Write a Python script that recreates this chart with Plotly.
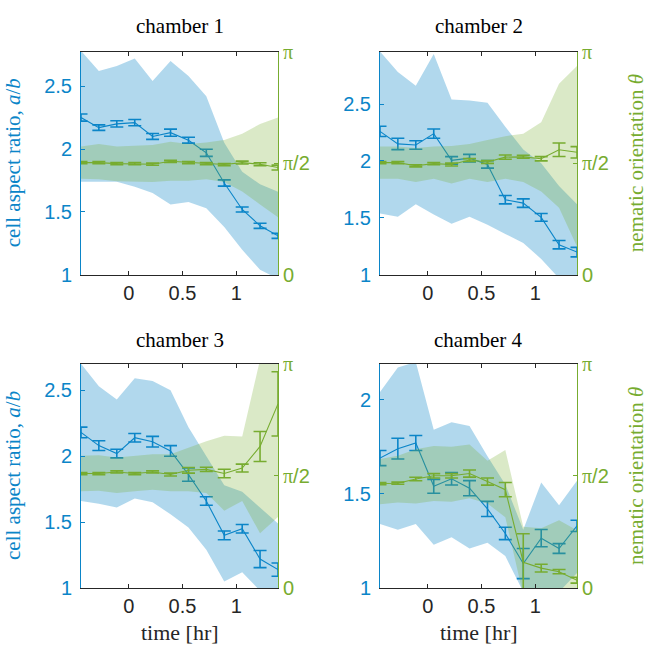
import numpy as np
import plotly.graph_objects as go

# time points [hr]
time = [-0.444, -0.278, -0.111, 0.056, 0.222, 0.389, 0.556, 0.722, 0.889, 1.056, 1.222, 1.389]

chambers = ["chamber 1", "chamber 2", "chamber 3", "chamber 4"]

# cell aspect ratio a/b : mean, s.e.m., band upper, band lower
ar_mean_1 = [2.25, 2.17, 2.20, 2.21, 2.10, 2.13, 2.07, 1.97, 1.73, 1.52, 1.39, 1.31]
ar_err_1 = [0.028, 0.022, 0.025, 0.025, 0.023, 0.028, 0.023, 0.028, 0.025, 0.02, 0.02, 0.02]
ar_up_1 = [2.78, 2.62, 2.66, 2.72, 2.54, 2.70, 2.58, 2.42, 2.05, 1.82, 1.72, 1.66]
ar_lo_1 = [1.74, 1.74, 1.74, 1.70, 1.65, 1.56, 1.58, 1.53, 1.38, 1.20, 1.04, 0.97]

ar_mean_2 = [2.26, 2.15, 2.14, 2.24, 2.005, 2.025, 1.97, 1.66, 1.63, 1.505, 1.265, 1.20]
ar_err_2 = [0.045, 0.05, 0.037, 0.04, 0.033, 0.033, 0.033, 0.037, 0.037, 0.034, 0.037, 0.042]
ar_up_2 = [2.96, 2.78, 2.66, 2.94, 2.54, 2.53, 2.51, 2.30, 2.10, 1.98, 1.78, 1.62]
ar_lo_2 = [1.54, 1.51, 1.62, 1.53, 1.45, 1.51, 1.44, 1.36, 1.28, 1.14, 0.97, 0.97]

ar_mean_3 = [2.18, 2.08, 2.02, 2.14, 2.11, 2.04, 1.86, 1.66, 1.40, 1.45, 1.22, 1.14]
ar_err_3 = [0.04, 0.037, 0.033, 0.032, 0.04, 0.04, 0.05, 0.032, 0.033, 0.032, 0.065, 0.05]
ar_up_3 = [2.70, 2.53, 2.43, 2.59, 2.57, 2.50, 2.22, 2.00, 1.78, 1.73, 1.61, 1.49]
ar_lo_3 = [1.66, 1.64, 1.61, 1.68, 1.65, 1.56, 1.46, 1.29, 1.05, 1.12, 0.98, 0.98]

ar_mean_4 = [1.69, 1.74, 1.77, 1.54, 1.58, 1.53, 1.42, 1.29, 1.13, 1.265, 1.21, 1.33]
ar_err_4 = [0.04, 0.055, 0.04, 0.037, 0.033, 0.04, 0.04, 0.033, 0.08, 0.046, 0.026, 0.03]
ar_up_4 = [2.04, 2.17, 2.20, 1.84, 1.88, 1.86, 1.70, 1.55, 1.31, 1.56, 1.44, 1.57]
ar_lo_4 = [1.34, 1.31, 1.34, 1.23, 1.27, 1.21, 1.24, 1.17, 0.98, 0.98, 0.98, 1.08]

# nematic orientation theta [rad] : mean, s.e.m., band upper, band lower
th_mean_1 = [1.58, 1.58, 1.566, 1.566, 1.557, 1.598, 1.58, 1.566, 1.553, 1.58, 1.557, 1.51]
th_err_1 = [0.015, 0.015, 0.015, 0.015, 0.015, 0.015, 0.015, 0.015, 0.015, 0.02, 0.02, 0.035]
th_up_1 = [1.806, 1.842, 1.806, 1.815, 1.829, 1.874, 1.842, 1.861, 1.897, 1.987, 2.123, 2.214]
th_lo_1 = [1.354, 1.345, 1.317, 1.308, 1.308, 1.326, 1.326, 1.345, 1.308, 1.172, 0.991, 0.810]

th_mean_2 = [1.58, 1.58, 1.535, 1.566, 1.553, 1.616, 1.589, 1.657, 1.661, 1.634, 1.761, 1.725]
th_err_2 = [0.015, 0.015, 0.015, 0.015, 0.02, 0.02, 0.02, 0.03, 0.02, 0.03, 0.095, 0.08]
th_up_2 = [1.806, 1.806, 1.784, 1.806, 1.815, 1.842, 1.897, 1.951, 1.987, 2.146, 2.689, 2.938]
th_lo_2 = [1.354, 1.354, 1.308, 1.354, 1.286, 1.354, 1.308, 1.354, 1.308, 1.172, 0.946, 0.40]

th_mean_3 = [1.605, 1.605, 1.627, 1.605, 1.627, 1.591, 1.65, 1.663, 1.605, 1.681, 1.984, 2.58]
th_err_3 = [0.015, 0.015, 0.015, 0.015, 0.015, 0.02, 0.04, 0.03, 0.06, 0.055, 0.21, 0.45]
th_up_3 = [1.853, 1.862, 1.831, 1.853, 1.876, 1.876, 1.966, 2.057, 2.133, 2.124, 3.20, 3.25]
th_lo_3 = [1.356, 1.365, 1.333, 1.356, 1.379, 1.356, 1.356, 1.333, 1.085, 1.220, 0.768, 0.995]

th_mean_4 = [1.465, 1.469, 1.528, 1.573, 1.573, 1.605, 1.492, 1.379, 0.362, 0.28, 0.23, 0.11]
th_err_4 = [0.015, 0.015, 0.025, 0.03, 0.03, 0.05, 0.05, 0.10, 0.40, 0.055, 0.03, 0.04]
th_up_4 = [1.808, 1.853, 1.944, 1.989, 1.980, 2.011, 1.785, 1.935, 0.859, 0.84, 0.95, 0.81]
th_lo_4 = [1.175, 1.198, 1.184, 1.220, 1.211, 1.257, 1.184, 0.994, -0.1, -0.1, -0.1, -0.1]

ar_ylim = [[1, 2.774], [1, 2.96], [1, 2.70], [1, 2.19]]
ar_ticks = [[1, 1.5, 2, 2.5], [1, 1.5, 2, 2.5], [1, 1.5, 2, 2.5], [1, 1.5, 2]]
ar_ticktext = [["1", "1.5", "2", "2.5"]] * 3 + [["1", "1.5", "2"]]
th_ticks = [0, np.pi / 2, np.pi]
th_ticktext = ["0", "<span style='font-family:Liberation Serif'>π</span>/2",
               "<span style='font-family:Liberation Serif'>π</span>"]
x_ticks = [0, 0.5, 1]
x_ticktext = ["0", "0.5", "1"]

AR = [(ar_mean_1, ar_err_1, ar_up_1, ar_lo_1), (ar_mean_2, ar_err_2, ar_up_2, ar_lo_2),
      (ar_mean_3, ar_err_3, ar_up_3, ar_lo_3), (ar_mean_4, ar_err_4, ar_up_4, ar_lo_4)]
TH = [(th_mean_1, th_err_1, th_up_1, th_lo_1), (th_mean_2, th_err_2, th_up_2, th_lo_2),
      (th_mean_3, th_err_3, th_up_3, th_lo_3), (th_mean_4, th_err_4, th_up_4, th_lo_4)]

BLUE = "#0b85c8"
GREEN = "#77ac30"
BLUE_FILL = "rgba(11,133,200,0.32)"
GREEN_FILL = "rgba(119,172,48,0.27)"
SERIF = "Liberation Serif"
SANS = "Liberation Sans"

W, H = 647, 660
cols = [(81, 278), (380, 577)]
rows = [(42, 273), (365, 597)]

fig = go.Figure()
layout = {}
annotations = []
for i in range(4):
    r, c = divmod(i, 2)
    xs = "" if i == 0 else str(i + 1)
    yl = "" if i == 0 else str(2 * i + 1)
    yr = str(2 * i + 2)
    xref = "x" + xs
    ylref = "y" + yl
    yrref = "y" + yr
    x0, x1 = cols[c]
    y0, y1 = rows[r]
    xdom = [x0 / W, x1 / W]
    ydom = [1 - y1 / H, 1 - y0 / H]

    m, e, up, lo = AR[i]
    fig.add_trace(go.Scatter(x=time + time[::-1], y=up + lo[::-1], fill="toself",
                             fillcolor=BLUE_FILL, line=dict(width=0), mode="lines",
                             hoverinfo="skip", showlegend=False, xaxis=xref, yaxis=ylref))
    fig.add_trace(go.Scatter(x=time, y=m, mode="lines", line=dict(color=BLUE, width=1.1),
                             error_y=dict(type="data", array=e, color=BLUE, thickness=1.6, width=6.5),
                             showlegend=False, xaxis=xref, yaxis=ylref))
    m, e, up, lo = TH[i]
    fig.add_trace(go.Scatter(x=time + time[::-1], y=up + lo[::-1], fill="toself",
                             fillcolor=GREEN_FILL, line=dict(width=0), mode="lines",
                             hoverinfo="skip", showlegend=False, xaxis=xref, yaxis=yrref))
    fig.add_trace(go.Scatter(x=time, y=m, mode="lines", line=dict(color=GREEN, width=1.1),
                             error_y=dict(type="data", array=e, color=GREEN, thickness=1.6, width=6.5),
                             showlegend=False, xaxis=xref, yaxis=yrref))

    layout["xaxis" + xs] = dict(domain=xdom, anchor=ylref, range=[time[0], time[-1]],
                                tickvals=x_ticks, ticktext=x_ticktext, ticks="inside", ticklen=4,
                                tickcolor="#262626", showline=True, linecolor="#262626", linewidth=1,
                                mirror="ticks", showgrid=False, zeroline=False,
                                tickfont=dict(family=SANS, size=20, color="#262626"))
    layout["yaxis" + yl] = dict(domain=ydom, anchor=xref, range=ar_ylim[i],
                                tickvals=ar_ticks[i], ticktext=ar_ticktext[i], ticks="inside",
                                ticklen=4, tickcolor=BLUE, showline=True, linecolor=BLUE,
                                linewidth=1, showgrid=False, zeroline=False, ticklabelstandoff=4,
                                tickfont=dict(family=SANS, size=20, color=BLUE))
    layout["yaxis" + yr] = dict(overlaying=ylref, anchor=xref, side="right", range=[0, np.pi],
                                tickvals=th_ticks, ticktext=th_ticktext, ticks="inside",
                                ticklen=4, tickcolor=GREEN, showline=True, linecolor=GREEN,
                                linewidth=1, showgrid=False, zeroline=False,
                                tickfont=dict(family=SANS, size=20, color=GREEN))
    ty = 16 if r == 0 else 340
    annotations.append(dict(text=chambers[i], x=(x0 + x1) / 2 / W, y=1 - ty / H,
                            xref="paper", yref="paper", showarrow=False, xanchor="center",
                            yanchor="middle", font=dict(family=SERIF, size=21, color="black")))
    if c == 0:
        annotations.append(dict(text="cell aspect ratio, <i>a</i>/<i>b</i>", x=13 / W,
                                y=1 - (y0 + y1) / 2 / H, xref="paper", yref="paper",
                                showarrow=False, textangle=-90, xanchor="center", yanchor="middle",
                                font=dict(family=SERIF, size=21, color=BLUE)))
    else:
        annotations.append(dict(text="nematic orientation <i>θ</i>", x=636 / W,
                                y=1 - (y0 + y1) / 2 / H, xref="paper", yref="paper",
                                showarrow=False, textangle=-90, xanchor="center", yanchor="middle",
                                font=dict(family=SERIF, size=21, color=GREEN)))
    if r == 1:
        annotations.append(dict(text="time [hr]", x=(x0 + x1) / 2 / W, y=1 - 643 / H,
                                xref="paper", yref="paper", showarrow=False, xanchor="center",
                                yanchor="middle", font=dict(family=SERIF, size=22, color="#262626")))

fig.update_layout(width=W, height=H, margin=dict(l=0, r=0, t=0, b=0),
                  paper_bgcolor="white", plot_bgcolor="white",
                  annotations=annotations, **layout)
fig.write_html("out.html")
